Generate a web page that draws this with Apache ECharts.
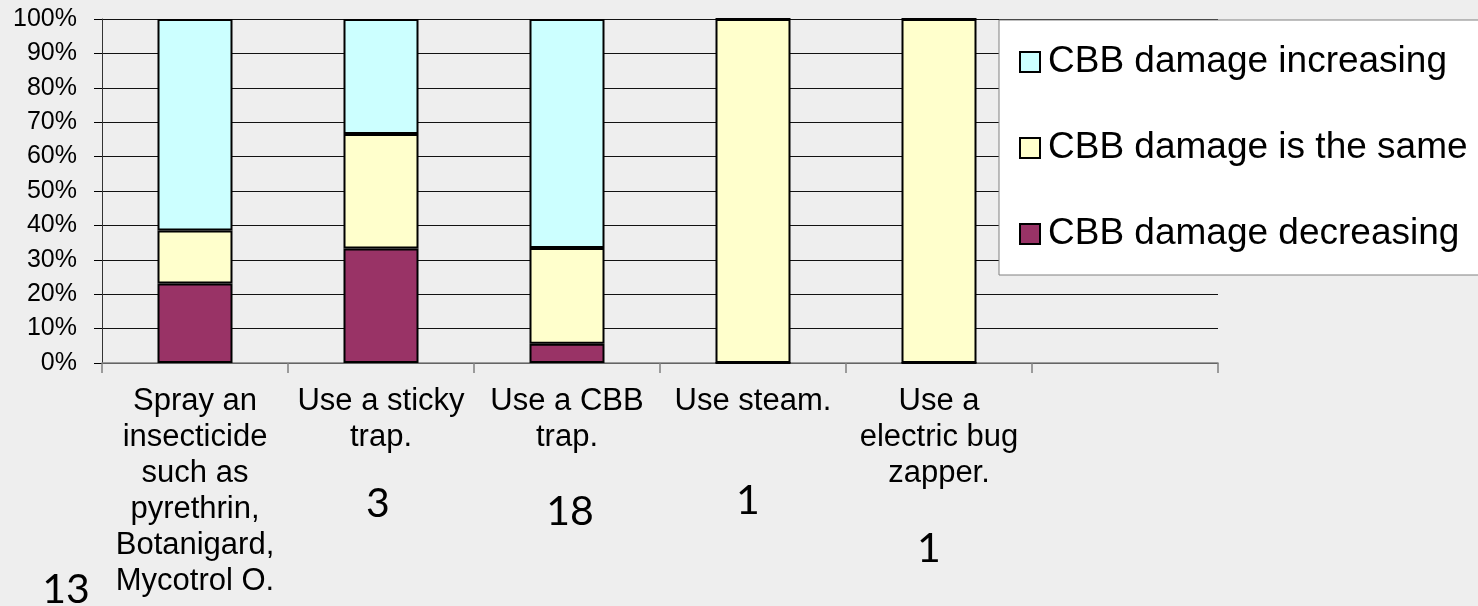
<!DOCTYPE html>
<html>
<head>
<meta charset="utf-8">
<script src="https://cdn.jsdelivr.net/npm/echarts@6/dist/echarts.min.js"></script>
<style>
  html, body { margin: 0; padding: 0; background: #eeeeee; }
  #chart { width: 1478px; height: 606px; }
</style>
</head>
<body>
<div id="chart"></div>
<script>
// categories (last slot is empty in the original sheet)
const categories = [
  'Spray an\ninsecticide\nsuch as\npyrethrin,\nBotanigard,\nMycotrol O.',
  'Use a sticky\ntrap.',
  'Use a CBB\ntrap.',
  'Use steam.',
  'Use a\nelectric bug\nzapper.',
  ''
]
const seriesNames = ['CBB damage decreasing', 'CBB damage is the same', 'CBB damage increasing']
// percent of respondents per method
const decreasing = [23.1, 33.3, 5.6, 0, 0, '-']
const same = [15.4, 33.3, 27.8, 100, 100, '-']
const increasing = [61.5, 33.4, 66.6, 0, 0, '-']
// respondents per method
const counts = ['13', '3', '18', '1', '1']

// where the loose count text boxes sit on the slide
const countSpots = [[66, 590], [378, 504], [570, 512], [748, 501], [929, 549]]

const colors = ['#993366', '#ffffcc', '#ccffff']
const sans = '"Liberation Sans", Arial, sans-serif'

const chart = echarts.init(document.getElementById('chart'))

chart.setOption({
  backgroundColor: '#eeeeee',
  animation: false,
  grid: { left: 102, right: 260, top: 19, bottom: 243 },
  legend: {
    orient: 'vertical',
    left: 999, top: 20,
    data: [seriesNames[2], seriesNames[1], seriesNames[0]],
    backgroundColor: '#ffffff',
    borderColor: '#808080', borderWidth: 1,
    padding: [22, 80, 21, 20],
    itemGap: 46,
    itemWidth: 20, itemHeight: 20,
    icon: 'rect',
    itemStyle: { borderColor: '#000', borderWidth: 2 },
    textStyle: { fontFamily: sans, fontSize: 37, lineHeight: 40, color: '#000', padding: [0, 0, 0, 3] },
    selectedMode: false,
  },
  xAxis: {
    type: 'category',
    data: categories,
    axisLine: { lineStyle: { color: '#808080', width: 1.5 } },
    axisTick: { show: true, length: 10, lineStyle: { color: '#808080', width: 1.5 } },
    axisLabel: { interval: 0, margin: 20, fontFamily: sans, fontSize: 31, lineHeight: 36, color: '#000', align: 'center' },
  },
  yAxis: {
    type: 'value',
    min: 0, max: 100, interval: 10,
    axisLine: { show: true, lineStyle: { color: '#333', width: 1 } },
    axisTick: { show: true, length: 8, lineStyle: { color: '#000' } },
    axisLabel: { margin: 25, fontFamily: sans, fontSize: 25, color: '#000', formatter: '{value}%' },
    splitLine: { lineStyle: { color: '#111', width: 1 } },
  },
  series: [decreasing, same, increasing].map((vals, i) => ({
    name: seriesNames[i],
    type: 'bar',
    stack: 'total',
    barWidth: 75,
    data: vals,
    itemStyle: { color: colors[i], borderColor: '#000', borderWidth: 2 },
  })),
  graphic: counts.map((c, i) => ({
    type: 'text',
    x: countSpots[i][0], y: countSpots[i][1],
    style: {
      text: c,
      fontFamily: 'Lato, "Open Sans", sans-serif',
      fontSize: 41,
      fill: '#000',
      align: 'center',
      verticalAlign: 'middle',
    },
  })),
})
</script>
</body>
</html>
